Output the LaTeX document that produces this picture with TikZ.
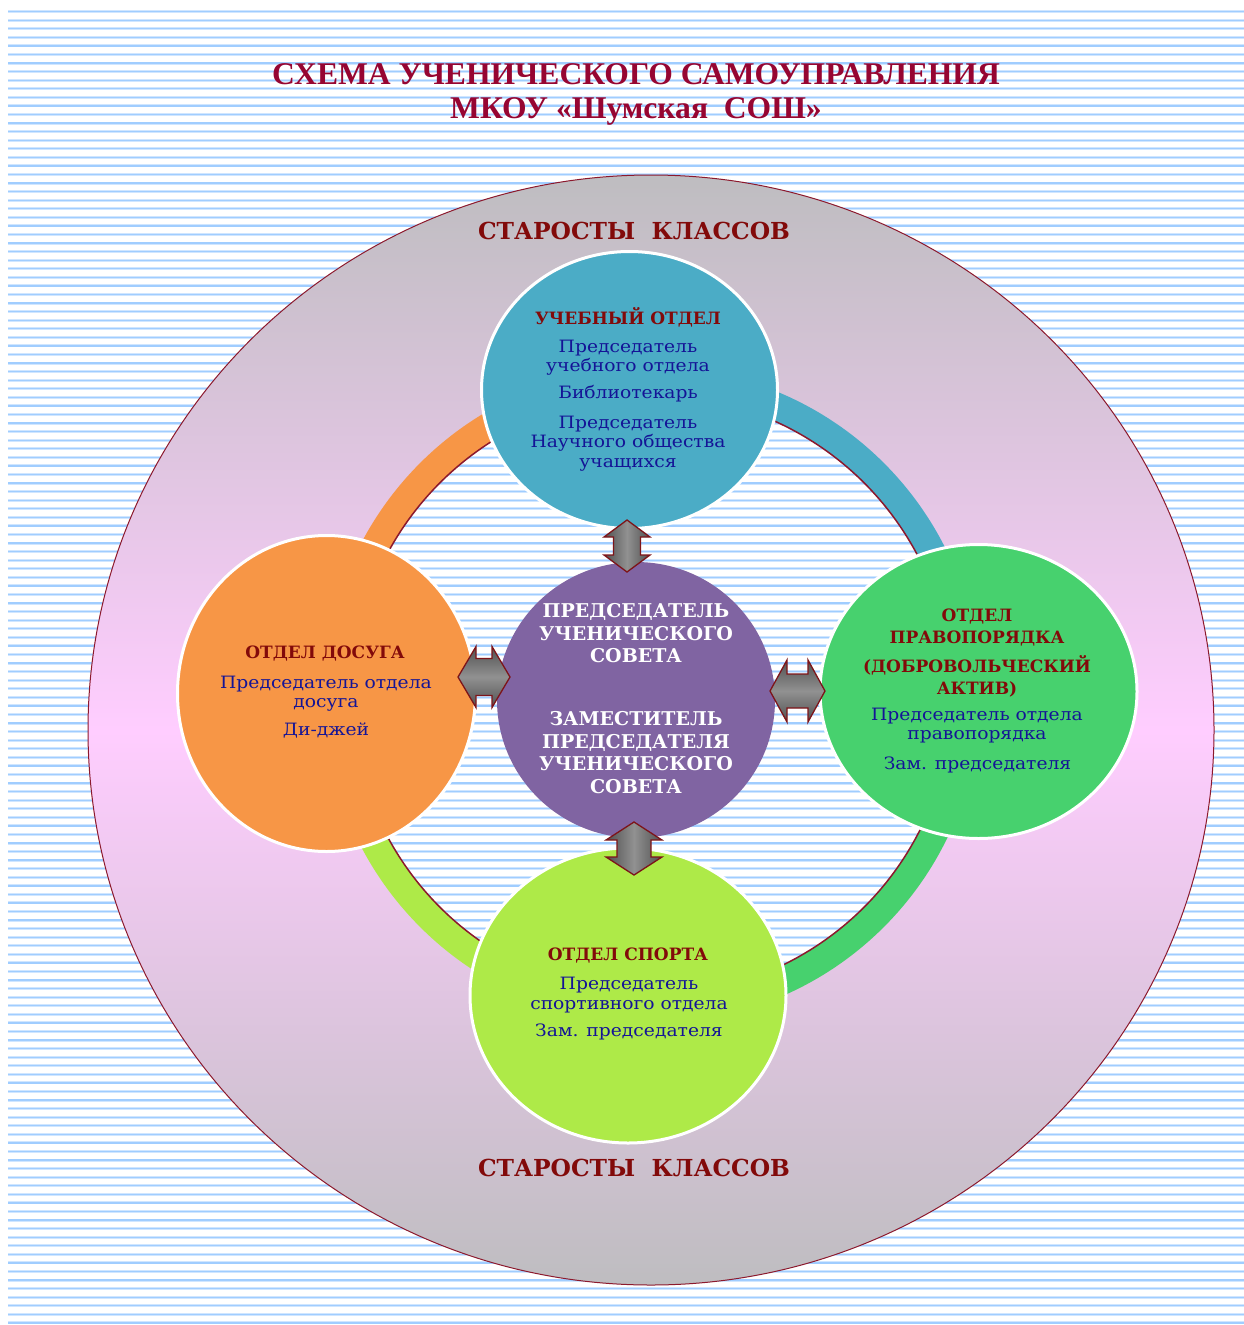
\documentclass[tikz,border=0pt]{standalone}
\usepackage{fontspec}
\setmainfont{DejaVu Serif}
\newfontfamily\titlef{Liberation Serif}
\newfontfamily\bodyf[FakeStretch=1.1]{DejaVu Serif}
\newfontfamily\headf{DejaVu Serif}
\usetikzlibrary{shapes.geometric}
\definecolor{stripeA}{RGB}{208,230,255}
\definecolor{stripeB}{RGB}{160,205,255}
\definecolor{ringgray}{RGB}{190,189,192}
\definecolor{ringpink}{RGB}{255,205,255}
\definecolor{ringline}{RGB}{140,25,45}
\definecolor{arrline}{RGB}{125,20,25}
\definecolor{cBlue}{RGB}{75,172,198}
\definecolor{cOrange}{RGB}{247,150,70}
\definecolor{cGreen}{RGB}{71,209,110}
\definecolor{cLime}{RGB}{174,234,72}
\definecolor{cPurple}{RGB}{128,100,162}
\definecolor{cTitle}{RGB}{150,5,50}
\definecolor{cHead}{RGB}{130,10,10}
\definecolor{cText}{RGB}{20,20,150}
\definecolor{arrDark}{RGB}{80,80,80}
\definecolor{arrLight}{RGB}{145,145,145}
\newcommand\drawmystripes{%
  \foreach \i in {0,...,153} {
    \draw[stripeA, line width=3] (8,{11.7+8.57*\i}) -- (1244,{11.7+8.57*\i});
    \draw[stripeB, line width=1.3] (8,{11.7+8.57*\i}) -- (1244,{11.7+8.57*\i});
  }}
% #1 name, #2 x, #3 y, #4 angle, #5 length, #6 head width, #7 shaft width, #8 head length
\newcommand\myblockarrow[8]{%
  \coordinate (#1) at (#2,#3);
  \begin{scope}[shift={(#1)}, rotate=#4]
    \draw[arrstyle, shading angle=#4]
      ({-#5/2},0) -- ({-#5/2+#8},{-#6/2}) -- ({-#5/2+#8},{-#7/2}) -- ({#5/2-#8},{-#7/2})
      -- ({#5/2-#8},{-#6/2}) -- ({#5/2},0) -- ({#5/2-#8},{#6/2}) -- ({#5/2-#8},{#7/2})
      -- ({-#5/2+#8},{#7/2}) -- ({-#5/2+#8},{#6/2}) -- cycle;
  \end{scope}}
\begin{document}
\begin{tikzpicture}[x=1pt,y=-1pt,
  bubble/.style={ellipse, draw=white, line width=3, inner sep=0},
  arrstyle/.style={draw=arrline, line width=1.3, line join=miter,
     top color=arrDark, bottom color=arrDark, middle color=arrLight},
  titletext/.style={font=\titlef\bfseries\fontsize{31.6}{34}\selectfont, text=cTitle, align=center, inner sep=0},
  startext/.style={font=\headf\bfseries\fontsize{23.4}{28}\selectfont, text=cHead, inner sep=0},
  headtext/.style={font=\headf\bfseries\fontsize{17}{22}\selectfont, text=cHead, align=center, inner sep=0},
  bodytext/.style={font=\bodyf\fontsize{17}{19.5}\selectfont, text=cText, align=center, inner sep=0},
  centertext/.style={font=\headf\bfseries\fontsize{19}{22.5}\selectfont, text=white, align=center, inner sep=0},
  band/.style={line width=28}
]
\useasboundingbox (0,0) rectangle (1244,1325);
\fill[white] (0,0) rectangle (1244,1325);
\drawmystripes
% big ring
\shade[top color=ringgray, bottom color=ringgray, middle color=ringpink]
  (651,730) ellipse [x radius=563, y radius=555];
\draw[ringline, line width=1] (651,730) ellipse [x radius=563, y radius=555];
\begin{scope}
  \clip (652,695) circle [radius=300];
  \fill[white] (652,695) circle [radius=300];
  \drawmystripes
\end{scope}
% coloured band
\coordinate (rc) at (652,695);
\draw[band, cOrange] ([shift={(180:314)}]rc) arc [start angle=180, end angle=270, radius=314];
\draw[band, cBlue]   ([shift={(270:314)}]rc) arc [start angle=270, end angle=360, radius=314];
\draw[band, cGreen]  ([shift={(0:314)}]rc) arc [start angle=0, end angle=90, radius=314];
\draw[band, cLime]   ([shift={(90:314)}]rc) arc [start angle=90, end angle=180, radius=314];
\draw[ringline, line width=1.5] (rc) circle [radius=300];
% circles
\node[bubble, fill=cBlue, minimum width=296, minimum height=277] (top) at (629.5,390) {};
\node[bubble, fill=cOrange, minimum width=298, minimum height=316] (left) at (326.5,693.5) {};
\node[bubble, fill=cGreen, minimum width=317, minimum height=294] (right) at (978.5,691.5) {};
\node[bubble, fill=cLime, minimum width=316, minimum height=295] (bottom) at (628,995.5) {};
\node[bubble, draw=none, fill=cPurple, minimum width=278, minimum height=276] (center) at (636,700) {};
% arrows between the centre and the departments
\myblockarrow{atop}{627}{546}{90}{52}{46}{27}{17}
\myblockarrow{abot}{634}{848.5}{90}{53}{56}{34}{18}
\myblockarrow{aleft}{484}{677}{0}{52}{61}{37}{18}
\myblockarrow{aright}{797.5}{691}{0}{55}{62}{34}{17}
% title
\node[titletext] (title) at (636,94) {СХЕМА УЧЕНИЧЕСКОГО САМОУПРАВЛЕНИЯ\\МКОУ «Шумская~~СОШ»};
\node[startext] (st1) at (634,231) {СТАРОСТЫ~~КЛАССОВ};
\node[startext] (st2) at (634,1168) {СТАРОСТЫ~~КЛАССОВ};
% top circle text
\node[headtext] (th) at (628,317) {УЧЕБНЫЙ ОТДЕЛ};
\node[bodytext] (t1) at (628,357.5) {Председатель\\учебного отдела};
\node[bodytext] (t2) at (628,394) {Библиотекарь};
\node[bodytext] (t3) at (628,443.5) {Председатель\\Научного общества\\учащихся};
% left
\node[headtext] (lh) at (325,654) {ОТДЕЛ ДОСУГА};
\node[bodytext] (l1) at (326,693.5) {Председатель отдела\\досуга};
\node[bodytext] (l2) at (326,730) {Ди-джей};
% right
\node[headtext] (rh1) at (977,628) {ОТДЕЛ\\ПРАВОПОРЯДКА};
\node[headtext] (rh2) at (977,676.5) {(ДОБРОВОЛЬЧЕСКИЙ\\АКТИВ)};
\node[bodytext] (r1) at (977,725.5) {Председатель отдела\\правопорядка};
\node[bodytext] (r2) at (977.5,765) {Зам. председателя};
% bottom
\node[headtext] (bh) at (628,956) {ОТДЕЛ СПОРТА};
\node[bodytext] (b1) at (629,995) {Председатель\\спортивного отдела};
\node[bodytext] (b2) at (629,1032) {Зам. председателя};
% center
\node[centertext] (c1) at (636,633.5) {ПРЕДСЕДАТЕЛЬ\\УЧЕНИЧЕСКОГО\\СОВЕТА};
\node[centertext] (c2) at (636,752.5) {ЗАМЕСТИТЕЛЬ\\ПРЕДСЕДАТЕЛЯ\\УЧЕНИЧЕСКОГО\\СОВЕТА};
\end{tikzpicture}
\end{document}
